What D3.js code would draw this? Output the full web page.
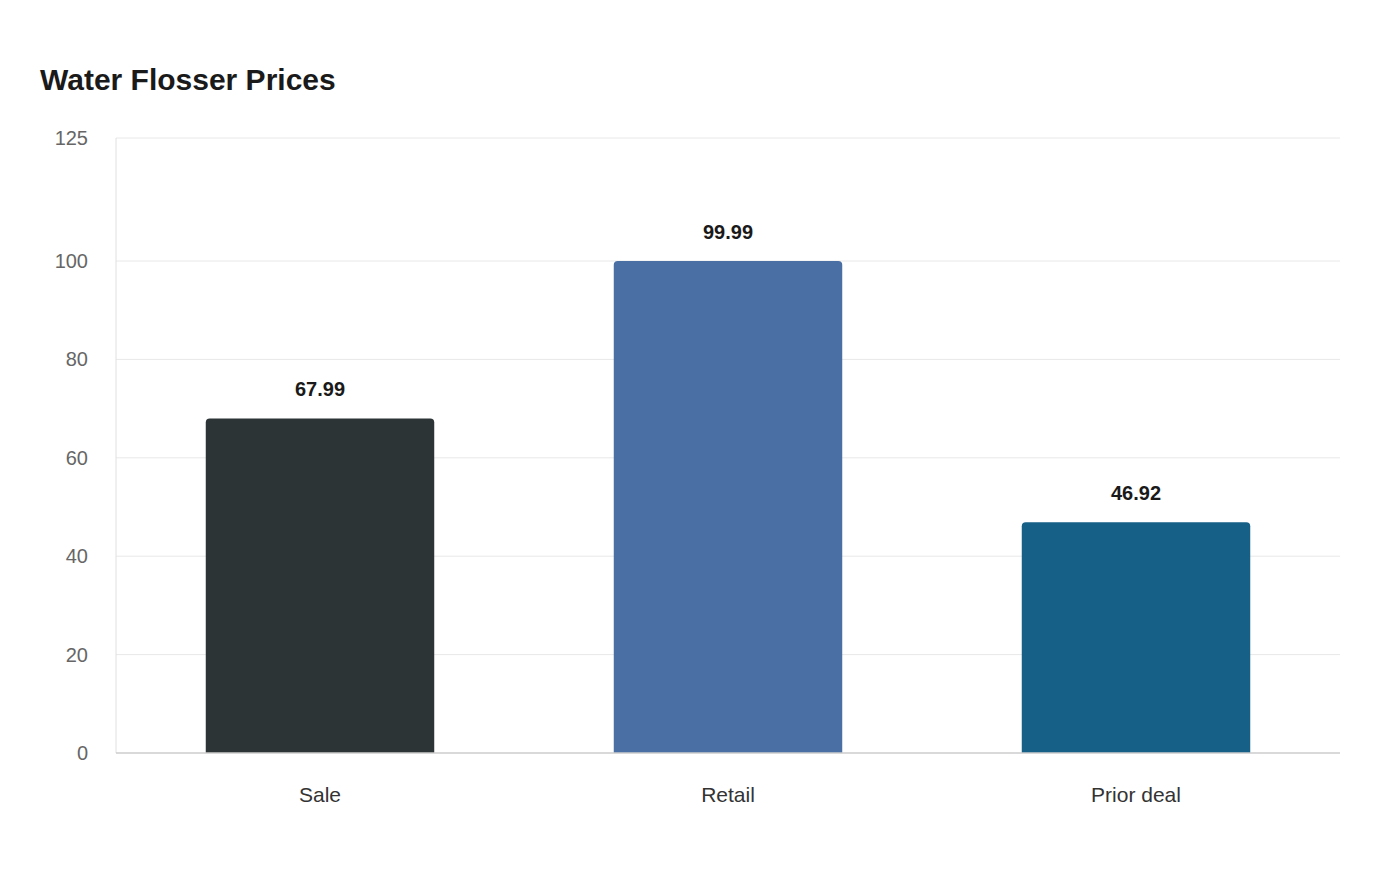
<!DOCTYPE html>
<html><head><meta charset="utf-8">
<script src="https://cdn.jsdelivr.net/npm/d3@7"></script>
<style>body{margin:0;background:#fff;font-family:"Liberation Sans",Arial,sans-serif;}</style>
</head><body>
<svg id="c" width="1400" height="880"></svg>
<script>
const categories = ["Sale", "Retail", "Prior deal"];
const values = [67.99, 99.99, 46.92];
const colors = ["#2d3436", "#4a6fa5", "#166088"];
const yTicks = [0, 20, 40, 60, 80, 100, 125];

const svg = d3.select("#c");
const L = 116, R = 1340, T = 138, B = 753;
const x = d3.scaleBand().domain(categories).range([L, R]).paddingInner(0.44).paddingOuter(0.22);
const y = d3.scaleLinear().domain([0, 125]).range([B, T]);

svg.append("text").attr("x", 40).attr("y", 90).attr("font-size", 30).attr("font-weight", "bold")
  .attr("fill", "#1a1a1a").text("Water Flosser Prices");

svg.append("g").selectAll("line").data(yTicks.filter(d => d > 0)).join("line")
  .attr("x1", L).attr("x2", R).attr("y1", d => y(d)).attr("y2", d => y(d))
  .attr("stroke", "#e8e8e8").attr("stroke-width", 1);

svg.append("line").attr("x1", L).attr("x2", L).attr("y1", T).attr("y2", B).attr("stroke", "#e0e0e0");

svg.append("g").selectAll("text").data(yTicks).join("text")
  .attr("x", 88).attr("y", d => y(d)).attr("dy", "0.35em").attr("text-anchor", "end")
  .attr("font-size", 20).attr("fill", "#666").text(d => d);

const r = 4;
svg.append("g").selectAll("path").data(values).join("path")
  .attr("fill", (d, i) => colors[i])
  .attr("d", (d, i) => {
    const x0 = x(categories[i]), w = x.bandwidth(), y0 = y(d), h = B - y0;
    return `M${x0},${B}V${y0 + r}Q${x0},${y0} ${x0 + r},${y0}H${x0 + w - r}Q${x0 + w},${y0} ${x0 + w},${y0 + r}V${B}Z`;
  });

svg.append("line").attr("x1", L).attr("x2", R).attr("y1", B).attr("y2", B).attr("stroke", "#cccccc").attr("stroke-width", 1.5);

svg.append("g").selectAll("text").data(values).join("text")
  .attr("x", (d, i) => x(categories[i]) + x.bandwidth() / 2).attr("y", d => y(d) - 22)
  .attr("text-anchor", "middle").attr("font-size", 20).attr("font-weight", "bold").attr("fill", "#1a1a1a")
  .text(d => d.toFixed(2));

svg.append("g").selectAll("text").data(categories).join("text")
  .attr("x", d => x(d) + x.bandwidth() / 2).attr("y", 802)
  .attr("text-anchor", "middle").attr("font-size", 21).attr("fill", "#333").text(d => d);
</script>
</body></html>
